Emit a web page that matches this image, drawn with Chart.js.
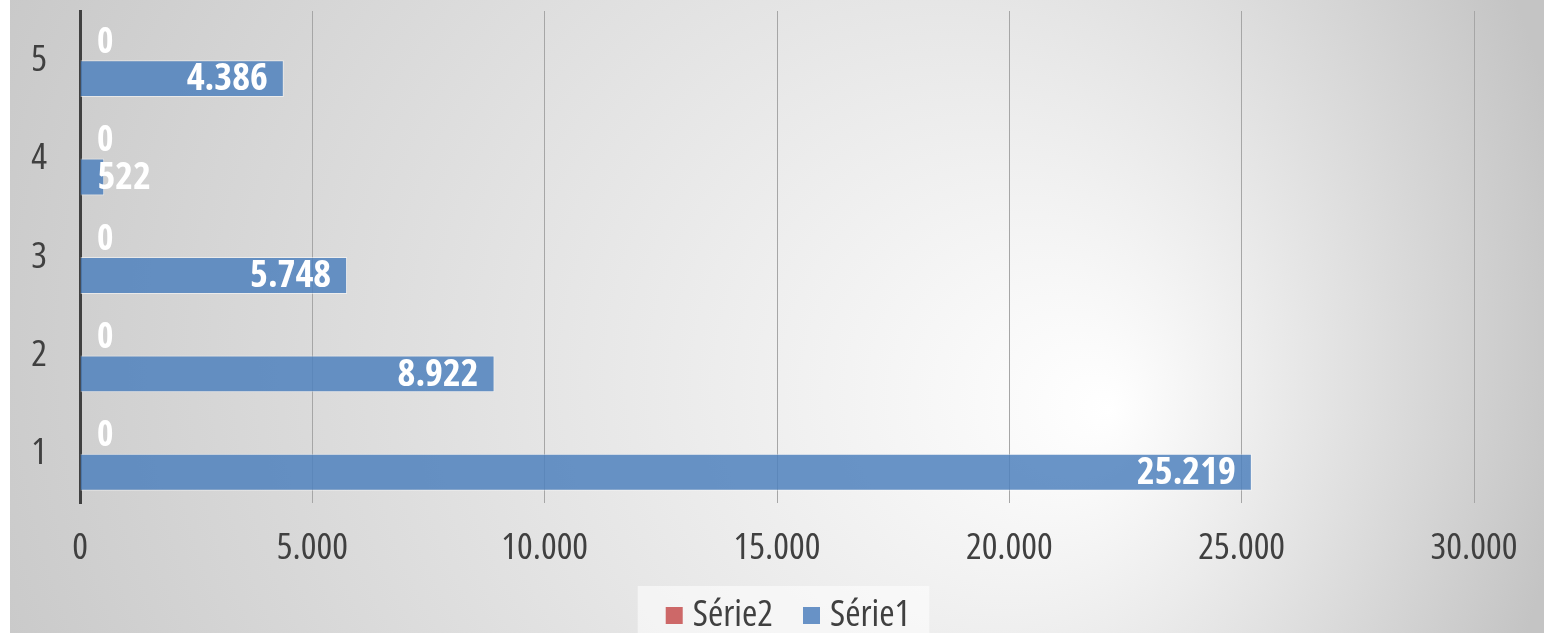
<!DOCTYPE html>
<html>
<head>
<meta charset="utf-8">
<script src="https://cdn.jsdelivr.net/npm/chart.js@4"></script>
<style>
  html, body { margin: 0; padding: 0; background: #ffffff; }
  #wrap { position: absolute; left: 10px; top: 0; width: 1534px; height: 633px; }
</style>
</head>
<body>
<div id="wrap"><canvas id="chart"></canvas></div>
<script>
// Horizontal bars, categories 1..5 (1 at the bottom).
const categories = ['1', '2', '3', '4', '5'];
const serie1 = [25219, 8922, 5748, 522, 4386];
const serie2 = [0, 0, 0, 0, 0];
const axisMax = 30000;
const axisStep = 5000;

const TEXT = '#404040';
const FAMILY = "'Open Sans'";
// stretch goes into the font string so Open Sans picks its narrow width.
const NARROW = '500 condensed';

// 25219 -> "25.219"
function fmt(v) {
  return String(v).replace(/\B(?=(\d{3})+(?!\d))/g, '.');
}

// Grey radial background, white glow towards the lower right.
const backdrop = {
  id: 'backdrop',
  beforeDraw(chart) {
    const ctx = chart.ctx;
    ctx.save();
    const g = ctx.createRadialGradient(1100, 410, 0, 690, 330, 880);
    g.addColorStop(0, '#ffffff');
    g.addColorStop(1, '#c4c4c4');
    ctx.fillStyle = g;
    ctx.fillRect(0, 0, chart.width, chart.height);
    ctx.restore();
  }
};

// White value labels: inside the end of the bar, pushed right of the axis when the bar is short.
const valueLabels = {
  id: 'valueLabels',
  afterDatasetsDraw(chart) {
    const ctx = chart.ctx;
    ctx.save();
    ctx.fillStyle = '#ffffff';
    ctx.textBaseline = 'middle';
    ctx.textAlign = 'left';
    chart.data.datasets.forEach((ds, di) => {
      ctx.font = 'bold condensed ' + (di === 0 ? 35 : 38) + 'px ' + FAMILY;
      const meta = chart.getDatasetMeta(di);
      meta.data.forEach((bar, i) => {
        const txt = fmt(ds.data[i]);
        const tw = ctx.measureText(txt).width;
        let x = bar.x - 16 - tw;
        if (x < bar.base + 17) x = bar.base + 17;
        ctx.fillText(txt, x, bar.y + 1);
      });
    });
    ctx.restore();
  }
};

// Legend at the bottom in a pale box: square swatch, then the series name.
const bottomLegend = {
  id: 'bottomLegend',
  afterDraw(chart) {
    const ctx = chart.ctx;
    const area = chart.chartArea;
    const sw = 17, gapText = 10, gapItem = 30;
    ctx.save();
    ctx.font = NARROW + ' 37px ' + FAMILY;
    const items = chart.data.datasets.map(ds => ({
      text: ds.label,
      color: ds.legendColor,
      w: ctx.measureText(ds.label).width
    }));
    const total = items.reduce((s, it) => s + sw + gapText + it.w, 0) + gapItem * (items.length - 1);
    let x = (area.left + area.right) / 2 + 11 - total / 2;

    ctx.fillStyle = 'rgba(255,255,255,0.55)';
    ctx.fillRect(x - 28, 586, total + 47, chart.height - 586);

    ctx.textBaseline = 'alphabetic';
    ctx.textAlign = 'left';
    items.forEach(it => {
      ctx.fillStyle = it.color;
      ctx.fillRect(x, 607, sw, sw);
      ctx.fillStyle = TEXT;
      ctx.fillText(it.text, x + sw + gapText, 626);
      x += sw + gapText + it.w + gapItem;
    });
    ctx.restore();
  }
};

new Chart(document.getElementById('chart').getContext('2d'), {
  type: 'bar',
  data: {
    labels: categories,
    datasets: [
      {
        label: 'Série2',
        data: serie2,
        backgroundColor: 'rgba(192, 80, 77, 0.85)',
        legendColor: '#cd6868',
        borderWidth: 0
      },
      {
        label: 'Série1',
        data: serie1,
        backgroundColor: 'rgba(79, 129, 189, 0.85)',
        legendColor: '#6892c6',
        borderColor: 'rgba(255, 255, 255, 0.5)',
        borderWidth: 1
      }
    ]
  },
  options: {
    indexAxis: 'y',
    responsive: true,
    maintainAspectRatio: false,
    animation: false,
    categoryPercentage: 0.75,
    barPercentage: 1,
    layout: { padding: { top: 11, right: 70, left: 0, bottom: 0 } },
    plugins: {
      tooltip: { enabled: false },
      legend: { display: false }
    },
    scales: {
      x: {
        min: 0,
        max: axisMax,
        ticks: {
          stepSize: axisStep,
          color: TEXT,
          padding: 23,
          font: { family: FAMILY, weight: NARROW, size: 37 },
          callback: (v) => fmt(v)
        },
        grid: { color: '#a6a6a6', lineWidth: 1, drawTicks: false },
        border: { display: false },
        afterFit: (s) => { s.height = 130; }
      },
      y: {
        reverse: true,
        ticks: {
          color: TEXT,
          padding: 33,
          font: { family: FAMILY, weight: NARROW, size: 37 }
        },
        grid: { display: false, drawTicks: false },
        border: { display: true, color: '#404040', width: 3 },
        afterFit: (s) => { s.width = 70; s.paddingTop = 0; s.paddingBottom = 0; }
      }
    }
  },
  plugins: [backdrop, valueLabels, bottomLegend]
});
</script>
</body>
</html>
